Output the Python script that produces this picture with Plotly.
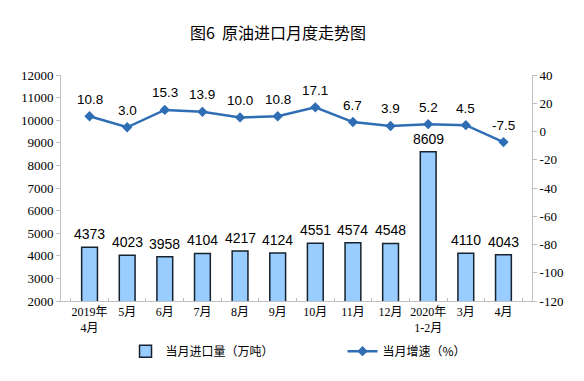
import plotly.graph_objects as go

categories = ["2019年<br>4月", "5月", "6月", "7月", "8月", "9月", "10月", "11月", "12月", "2020年<br>1-2月", "3月", "4月"]
imports = [4373, 4023, 3958, 4104, 4217, 4124, 4551, 4574, 4548, 8609, 4110, 4043]
growth = [10.8, 3.0, 15.3, 13.9, 10.0, 10.8, 17.1, 6.7, 3.9, 5.2, 4.5, -7.5]
growth_labels = ["10.8", "3.0", "15.3", "13.9", "10.0", "10.8", "17.1", "6.7", "3.9", "5.2", "4.5", "-7.5"]
left_ticks = [2000, 3000, 4000, 5000, 6000, 7000, 8000, 9000, 10000, 11000, 12000]
right_ticks = [-120, -100, -80, -60, -40, -20, 0, 20, 40]

BAR_FILL = "#99CCFF"
BAR_EDGE = "#16222E"
LINE_COLOR = "#2F6DB5"
AXIS_COLOR = "#BFBFBF"

fig = go.Figure()
fig.add_trace(go.Bar(
    x=categories, y=imports, name="当月进口量（万吨）",
    marker=dict(color=BAR_FILL, line=dict(color=BAR_EDGE, width=1.5)),
    width=0.42, yaxis="y",
))
fig.add_trace(go.Scatter(
    x=categories, y=growth, name="当月增速（%）", mode="lines+markers",
    line=dict(color=LINE_COLOR, width=2.5),
    marker=dict(symbol="diamond", size=8, color=LINE_COLOR),
    yaxis="y2",
))

annotations = []
for c, v in zip(categories, imports):
    annotations.append(dict(x=c, y=v, xref="x", yref="y", text=str(v), showarrow=False,
                            yshift=13, font=dict(family="Liberation Sans, Arial", size=14, color="#000")))
for c, v, t in zip(categories, growth, growth_labels):
    annotations.append(dict(x=c, y=v, xref="x", yref="y2", text=t, showarrow=False,
                            yshift=17, font=dict(family="Liberation Sans, Arial", size=13.5, color="#000")))

fig.update_layout(
    width=584, height=381,
    margin=dict(l=61, r=52, t=75, b=80),
    paper_bgcolor="white", plot_bgcolor="white",
    title=dict(text="图6  原油进口月度走势图", x=0.476, xanchor="center", y=1 - 33 / 381, yanchor="middle",
               font=dict(family="Noto Sans CJK SC", size=16, color="#000")),
    showlegend=True,
    legend=dict(orientation="h", x=0.137, xanchor="left", y=-0.222, yanchor="middle",
                font=dict(family="Noto Sans CJK SC", size=12, color="#000"),
                entrywidth=172, entrywidthmode="pixels", itemwidth=30, bgcolor="rgba(0,0,0,0)"),
    bargap=0.58,
    xaxis=dict(type="category", showline=True, linecolor=AXIS_COLOR, linewidth=1,
               ticks="inside", ticklen=3, tickcolor=AXIS_COLOR, tickson="boundaries", tickangle=0,
               showgrid=False, tickfont=dict(family="Liberation Serif, Noto Sans CJK SC", size=12, color="#000")),
    yaxis=dict(range=[2000, 12000], tickmode="array", tickvals=left_ticks, ticktext=[str(t) for t in left_ticks],
               showline=True, linecolor=AXIS_COLOR, linewidth=1,
               ticks="outside", ticklen=4, tickcolor=AXIS_COLOR, showgrid=False, zeroline=False,
               tickfont=dict(family="Liberation Serif", size=13, color="#000")),
    yaxis2=dict(range=[-120, 40], tickmode="array", tickvals=right_ticks, ticktext=[str(t) for t in right_ticks],
                overlaying="y", side="right", showline=True,
                linecolor=AXIS_COLOR, linewidth=1, ticks="outside", ticklen=4, tickcolor=AXIS_COLOR,
                showgrid=False, zeroline=False,
                tickfont=dict(family="Liberation Serif", size=13, color="#000")),
    annotations=annotations,
)

fig.write_html("out.html", config={"displayModeBar": False})
with open("out.html", "r", encoding="utf-8") as f:
    html = f.read()
html = html.replace("<body>", '<body style="margin:0;padding:0;">', 1)
with open("out.html", "w", encoding="utf-8") as f:
    f.write(html)
